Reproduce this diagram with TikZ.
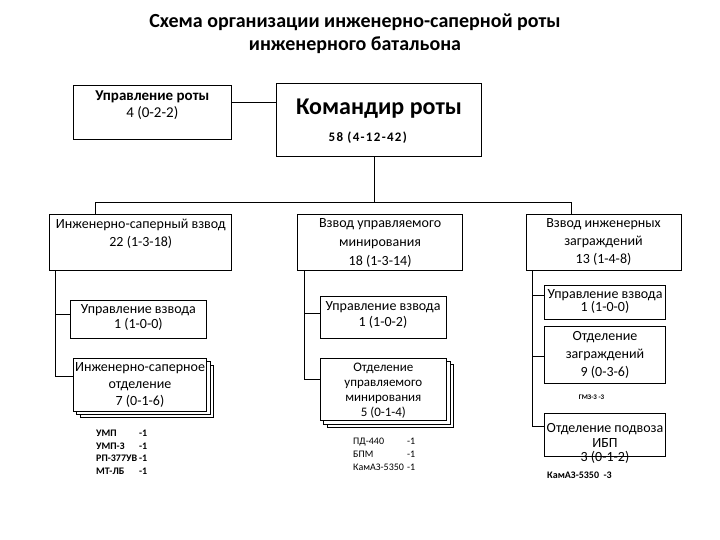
\documentclass[tikz,border=0pt]{standalone}
\usepackage{fontspec}
\setmainfont{Carlito}
\usetikzlibrary{calc}
\newcommand{\myfs}[2]{\fontsize{#1}{#2}\selectfont}
\begin{document}
\begin{tikzpicture}[x=1pt,y=-1pt,
  box/.style={draw, line width=0.8pt, fill=white, inner sep=0pt},
  txt/.style={inner sep=0pt, align=center},
  lst/.style={inner sep=0pt, anchor=west},
  conn/.style={line width=0.8pt}]
\useasboundingbox (0,0) rectangle (720,540);
% title
\node[txt, font=\bfseries\myfs{20}{23.3}] (title) at (355,33.4) {Схема организации инженерно-саперной роты\\инженерного батальона};
% top boxes
\node[box, minimum width=158.4pt, minimum height=54.3pt] (ur) at (152.5,112.2) {};
\node[txt, font=\myfs{15}{16.6}] (tur) at (152.3,105) {\textbf{Управление роты}\\4 (0-2-2)};
\node[box, minimum width=204.5pt, minimum height=72.7pt] (kr) at (378.75,119.7) {};
\node[txt, font=\bfseries\myfs{24}{28}] (tkr) at (379,109) {Командир роты};
\node[txt, font=\bfseries\myfs{13}{15}\addfontfeature{LetterSpace=10}] (tkn) at (367.8,138) {58 (4-12-42)};
% platoons
\node[box, minimum width=182.7pt, minimum height=55.7pt] (v1) at (140.35,242.2) {};
\node[txt, font=\myfs{14}{17.7}] (tv1) at (140.8,233.9) {Инженерно-саперный взвод\\22 (1-3-18)};
\node[box, minimum width=165.2pt, minimum height=56pt] (v2) at (380.1,242) {};
\node[txt, font=\myfs{14}{18.8}] (tv2) at (380.1,242.8) {Взвод управляемого\\минирования\\18 (1-3-14)};
\node[box, minimum width=155pt, minimum height=56pt] (v3) at (603.5,242) {};
\node[txt, font=\myfs{14}{18.2}] (tv3) at (603.5,242.2) {Взвод инженерных\\заграждений\\13 (1-4-8)};
% left column
\node[box, minimum width=135.3pt, minimum height=38.3pt] (u1) at (138.35,319.15) {};
\node[txt, font=\myfs{14}{15}] (tu1) at (138.35,317.5) {Управление взвода\\1 (1-0-0)};
\draw[box] (80,365) rectangle (213.4,417.7);
\draw[box] (76.6,361.6) rectangle (210,414.3);
\node[box, minimum width=133.4pt, minimum height=52.7pt] (s1) at (140,384.65) {};
\node[txt, font=\myfs{14}{16.7}] (ts1) at (140,385) {Инженерно-саперное\\отделение\\7 (0-1-6)};
% middle column
\node[box, minimum width=126pt, minimum height=42pt] (u2) at (383,317) {};
\node[txt, font=\myfs{14}{16}] (tu2) at (383,314.7) {Управление взвода\\1 (1-0-2)};
\draw[box] (327.4,364.7) rectangle (453.4,427.4);
\draw[box] (323.3,361.3) rectangle (450,424);
\node[box, minimum width=126.7pt, minimum height=62.7pt] (s2) at (383.35,389.35) {};
\node[txt, font=\myfs{13}{15.1}] (ts2) at (383.35,390.4) {Отделение\\управляемого\\минирования\\5 (0-1-4)};
% right column
\node[box, minimum width=121.4pt, minimum height=34.3pt] (u3) at (605,302.15) {};
\node[txt, font=\myfs{14}{13.3}] (tu3) at (605,301.7) {Управление взвода\\1 (1-0-0)};
\node[box, minimum width=121.4pt, minimum height=57.3pt] (o3) at (605,354.65) {};
\node[txt, font=\myfs{14}{17.7}] (to3) at (605,355) {Отделение\\заграждений\\9 (0-3-6)};
\node[box, minimum width=121.4pt, minimum height=42.7pt] (p3) at (605,434.65) {};
\node[txt, font=\myfs{14}{14.5}] (tp3) at (605,443.6) {Отделение подвоза\\ИБП\\3 (0-1-2)};
% equipment lists
\node[lst, font=\bfseries\myfs{10}{12.5}] (e1) at (96,452.75) {\begin{tabular}{@{}l@{\hspace{2pt}}l@{}}УМП & -1\\УМП-З & -1\\РП-377УВ & -1\\МТ-ЛБ & -1\end{tabular}};
\node[lst, font=\myfs{10}{13}] (e2) at (353,454.5) {\begin{tabular}{@{}l@{\hspace{3pt}}l@{}}ПД-440 & -1\\БПМ & -1\\КамАЗ-5350 & -1\end{tabular}};
\node[txt, font=\bfseries\myfs{7}{8}] (e3) at (591.5,397) {ГМЗ-3 -3};
\node[lst, font=\bfseries\myfs{10}{12}] (e4) at (547,475) {КамАЗ-5350\ \ -3};
% connectors
\coordinate (c1) at (0,102.5);
\coordinate (bk) at (374,202.5);
\coordinate (bl) at (95,202.5);
\coordinate (br) at (571,202.5);
\draw[conn] (ur.east |- c1) -- (kr.west |- c1);
\draw[conn] (kr.south -| bk) -- (bk);
\draw[conn] (v1.north -| bl) -- (bl) -- (br) -- (v3.north -| br);
\coordinate (la) at (55.5,314);
\coordinate (lb) at (55.5,376);
\draw[conn] (v1.south -| la) -- (lb) -- (lb -| s1.west);
\draw[conn] (la) -- (la -| u1.west);
\coordinate (ma) at (304,313);
\coordinate (mb) at (304,379);
\draw[conn] (v2.south -| ma) -- (mb) -- (mb -| s2.west);
\draw[conn] (ma) -- (ma -| u2.west);
\coordinate (ra) at (532.7,295);
\coordinate (rb) at (532.7,356);
\coordinate (rc) at (532.7,426);
\draw[conn] (v3.south -| ra) -- (rc) -- (rc -| p3.west);
\draw[conn] (ra) -- (ra -| u3.west);
\draw[conn] (rb) -- (rb -| o3.west);
\end{tikzpicture}
\end{document}
